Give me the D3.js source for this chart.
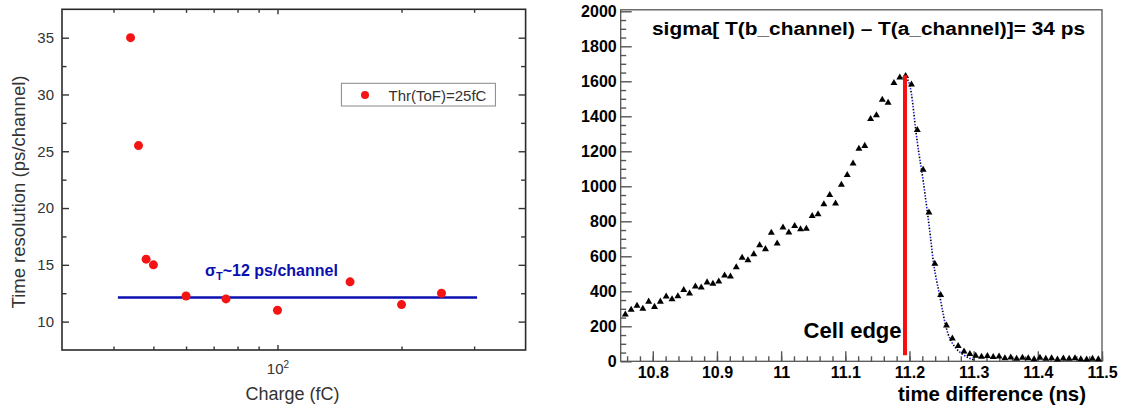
<!DOCTYPE html>
<html><head><meta charset="utf-8">
<script src="https://cdn.jsdelivr.net/npm/d3@7"></script>
<style>
body{margin:0;background:#fff}
svg{display:block}
text{font-family:"Liberation Sans",Arial,Helvetica,sans-serif}
</style>
</head><body>
<svg id="c" width="1123" height="412"></svg>
<script>
// ---------- Left panel data ----------
const chargeFC   = [44, 46, 48, 50, 60, 75, 100, 150, 200, 250];
const timeResPs  = [35, 25.5, 15.5, 15, 12.25, 12.0, 11.0, 13.5, 11.5, 12.5];
const levelX     = [41, 305];
const levelY     = [12.12, 12.12];
const leftYTicks = [10, 15, 20, 25, 30, 35];
const leftYMinor = [12.5, 17.5, 22.5, 27.5, 32.5];
const leftXMajor = [100];
const leftXMinor = [40, 50, 60, 70, 80, 90, 200, 300];
const legendLabel = "Thr(ToF)=25fC";

// ---------- Right panel data ----------
const binStart = 10.7572, binWidth = 0.0091;
const counts = [268, 295, 318, 300, 341, 311, 341, 370, 355, 372,
                408, 388, 427, 422, 451, 443, 456, 490, 484, 538,
                592, 578, 612, 663, 641, 735, 673, 765, 736, 773,
                754, 757, 830, 840, 897, 950, 902, 1009, 1065, 1130,
                1215, 1231, 1384, 1406, 1494, 1478, 1590, 1622, 1630, 1582,
                1322, 1095, 850, 557, 379, 205, 130, 87, 56, 42,
                32, 26, 30, 25, 28, 18, 22, 15, 20, 17,
                12, 20, 15, 18, 10, 16, 14, 18, 12, 10,
                15, 12];
const fitX = [11.195, 11.203, 11.2095, 11.2146, 11.219, 11.224, 11.228, 11.233, 11.2375, 11.242,
              11.247, 11.2515, 11.256, 11.260, 11.2655, 11.273, 11.2815, 11.291, 11.300];
const fitY = [1625, 1530, 1330, 1190, 1090, 960, 850, 700, 560, 465,
              378, 290, 210, 158, 112, 72, 44, 22, 8];
const edgeX = 11.193, edgeY = [35, 1635];
const rightXTicks = [10.8, 10.9, 11, 11.1, 11.2, 11.3, 11.4, 11.5];
const rightYTicks = [0, 200, 400, 600, 800, 1000, 1200, 1400, 1600, 1800, 2000];

const svg = d3.select("#c");

// ================= LEFT PANEL =================
const L = {x0: 62, x1: 525.6, y0: 9.3, y1: 350};
const xL = d3.scaleLog().domain([30, 400]).range([L.x0, L.x1]);
const yL = d3.scaleLinear().domain([7.5, 37.5]).range([L.y1, L.y0]);
const gL = svg.append("g");
const axCol = "#2a2a2a";

gL.append("rect").attr("x", L.x0).attr("y", L.y0)
  .attr("width", L.x1 - L.x0).attr("height", L.y1 - L.y0)
  .attr("fill", "none").attr("stroke", axCol).attr("stroke-width", 1.6);

function styleAxis(g, fs, col, weight) {
  g.select(".domain").remove();
  g.selectAll("line").attr("stroke", col).attr("stroke-width", 1.4);
  g.selectAll("text").attr("font-size", fs).attr("fill", col)
    .attr("font-family", '"Liberation Sans",Arial,sans-serif')
    .attr("font-weight", weight || "normal");
}
// y left major
gL.append("g").attr("transform", `translate(${L.x0},0)`)
  .call(d3.axisLeft(yL).tickValues(leftYTicks).tickSize(-7).tickPadding(8))
  .call(g => styleAxis(g, 15, "#333"));
gL.append("g").attr("transform", `translate(${L.x0},0)`)
  .call(d3.axisLeft(yL).tickValues(leftYMinor).tickSize(-4.5).tickFormat(""))
  .call(g => styleAxis(g, 15, "#333"));
// y right mirror
gL.append("g").attr("transform", `translate(${L.x1},0)`)
  .call(d3.axisRight(yL).tickValues(leftYTicks).tickSize(-7).tickFormat(""))
  .call(g => styleAxis(g, 15, "#333"));
gL.append("g").attr("transform", `translate(${L.x1},0)`)
  .call(d3.axisRight(yL).tickValues(leftYMinor).tickSize(-4.5).tickFormat(""))
  .call(g => styleAxis(g, 15, "#333"));
// x bottom
const bx = gL.append("g").attr("transform", `translate(0,${L.y1})`)
  .call(d3.axisBottom(xL).tickValues(leftXMajor).tickSize(-5).tickPadding(13).tickFormat(() => "10"))
  .call(g => styleAxis(g, 15, "#333"));
bx.selectAll(".tick text").append("tspan").attr("dy", "-0.55em").attr("font-size", 10).text("2");
gL.append("g").attr("transform", `translate(0,${L.y1})`)
  .call(d3.axisBottom(xL).tickValues(leftXMinor).tickSize(-3.5).tickFormat(""))
  .call(g => styleAxis(g, 15, "#333"));
// x top mirror
gL.append("g").attr("transform", `translate(0,${L.y0})`)
  .call(d3.axisTop(xL).tickValues(leftXMajor).tickSize(-5).tickFormat(""))
  .call(g => styleAxis(g, 15, "#333"));
gL.append("g").attr("transform", `translate(0,${L.y0})`)
  .call(d3.axisTop(xL).tickValues(leftXMinor).tickSize(-3.5).tickFormat(""))
  .call(g => styleAxis(g, 15, "#333"));

// level line
const blue = "#0b0fb0";
gL.append("path")
  .datum(levelX.map((x, i) => [x, levelY[i]]))
  .attr("d", d3.line().x(d => xL(d[0])).y(d => yL(d[1])))
  .attr("stroke", blue).attr("stroke-width", 2.6).attr("fill", "none");

// points
gL.selectAll("circle.pt").data(chargeFC.map((c, i) => [c, timeResPs[i]]))
  .join("circle").attr("class", "pt")
  .attr("cx", d => xL(d[0])).attr("cy", d => yL(d[1])).attr("r", 4.5)
  .attr("fill", "#f41414");

// sigma label
const sl = gL.append("text").attr("x", 205).attr("y", 276)
  .attr("font-size", 16).attr("font-weight", "bold").attr("fill", blue);
sl.append("tspan").text("\u03C3");
sl.append("tspan").attr("dy", 4).attr("font-size", 11).text("T");
sl.append("tspan").attr("dy", -4).text("~12 ps/channel");

// legend
gL.append("rect").attr("x", 341.4).attr("y", 83.3).attr("width", 154).attr("height", 22.7)
  .attr("fill", "#fff").attr("stroke", "#888").attr("stroke-width", 1);
gL.append("circle").attr("cx", 365).attr("cy", 95).attr("r", 4).attr("fill", "#f41414");
gL.append("text").attr("x", 388.5).attr("y", 100.5).attr("font-size", 15).attr("fill", "#333")
  .text(legendLabel);

// axis titles
gL.append("text").attr("transform", "translate(25,192) rotate(-90)")
  .attr("text-anchor", "middle").attr("font-size", 18).attr("fill", "#333")
  .attr("textLength", 233).attr("lengthAdjust", "spacingAndGlyphs")
  .text("Time resolution (ps/channel)");
gL.append("text").attr("x", 292.5).attr("y", 400).attr("text-anchor", "middle")
  .attr("font-size", 18).attr("fill", "#333").text("Charge (fC)");

// ================= RIGHT PANEL =================
const R = {x0: 620.7, x1: 1102, y0: 11.3, y1: 361.3};
const xR = d3.scaleLinear().domain([10.75, 11.5]).range([R.x0, R.x1]);
const yR = d3.scaleLinear().domain([0, 2000]).range([R.y1, R.y0]);
const gR = svg.append("g");

gR.append("rect").attr("x", R.x0).attr("y", R.y0 - 1.5)
  .attr("width", R.x1 - R.x0).attr("height", R.y1 - R.y0 + 1.5)
  .attr("fill", "none").attr("stroke", "#555").attr("stroke-width", 1.3);

gR.append("g").attr("transform", `translate(${R.x0},0)`)
  .call(d3.axisLeft(yR).tickValues(rightYTicks).tickSize(-11).tickPadding(4).tickFormat(d3.format("d")))
  .call(g => styleAxis(g, 16, "#000", "bold"));
gR.append("g").attr("transform", `translate(${R.x0},0)`)
  .call(d3.axisLeft(yR).tickValues(d3.range(50, 2000, 50).filter(v => v % 200 !== 0)).tickSize(-5.5).tickFormat(""))
  .call(g => styleAxis(g, 16, "#000"));
gR.append("g").attr("transform", `translate(0,${R.y1})`)
  .call(d3.axisBottom(xR).tickValues(rightXTicks).tickSize(-10).tickPadding(5).tickFormat(d => String(d)))
  .call(g => styleAxis(g, 16, "#000", "bold"));
gR.append("g").attr("transform", `translate(0,${R.y1})`)
  .call(d3.axisBottom(xR).tickValues(d3.range(0, 38).map(k => 10.76 + k * 0.02)).tickSize(-5).tickFormat(""))
  .call(g => styleAxis(g, 16, "#000"));
gR.selectAll("line").attr("stroke", "#555");

// fit curve (dotted blue/black)
const fitPts = fitX.map((x, i) => [x, fitY[i]]);
const fitLine = d3.line().x(d => xR(d[0])).y(d => yR(d[1])).curve(d3.curveMonotoneX);
gR.append("path").datum(fitPts).attr("d", fitLine).attr("fill", "none")
  .attr("stroke", "#2020ff").attr("stroke-width", 1.6).attr("stroke-dasharray", "1.5,4.5");
gR.append("path").datum(fitPts).attr("d", fitLine).attr("fill", "none")
  .attr("stroke", "#000").attr("stroke-width", 1.6).attr("stroke-dasharray", "1.5,4.5").attr("stroke-dashoffset", 3);

// triangles
const tri = d3.symbol().type(d3.symbolTriangle).size(21);
gR.selectAll("path.tri").data(counts.map((c, i) => [binStart + i * binWidth, c]))
  .join("path").attr("class", "tri")
  .attr("transform", d => `translate(${xR(d[0])},${yR(d[1])})`)
  .attr("d", tri).attr("fill", "#000");

// cell edge line
gR.append("line").attr("x1", xR(edgeX)).attr("x2", xR(edgeX))
  .attr("y1", yR(edgeY[0])).attr("y2", yR(edgeY[1]))
  .attr("stroke", "#f51010").attr("stroke-width", 4);

// texts
gR.append("text").attr("x", 652).attr("y", 35).attr("font-size", 18).attr("font-weight", "bold")
  .attr("textLength", 433).attr("lengthAdjust", "spacingAndGlyphs")
  .text("sigma[ T(b_channel) \u2013 T(a_channel)]= 34 ps");
gR.append("text").attr("x", 803.6).attr("y", 338).attr("font-size", 22).attr("font-weight", "bold")
  .attr("textLength", 98).attr("lengthAdjust", "spacingAndGlyphs").text("Cell edge");
gR.append("text").attr("x", 898).attr("y", 401).attr("font-size", 21).attr("font-weight", "bold")
  .attr("textLength", 188).attr("lengthAdjust", "spacingAndGlyphs").text("time difference (ns)");
</script>
</body></html>
